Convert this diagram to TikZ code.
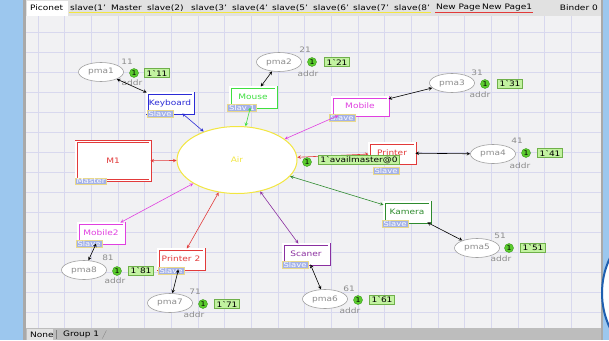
\documentclass[tikz,border=0pt]{standalone}
\usepackage{fontspec}
\setmainfont{DejaVu Sans}[FakeStretch=1.2]
\usetikzlibrary{shapes.geometric}
\definecolor{deskblue}{HTML}{9CC7EE}
\definecolor{framegray}{HTML}{A9A9A9}
\definecolor{canvasbg}{HTML}{F1F1F3}
\definecolor{gridline}{HTML}{D8D8EE}
\definecolor{tabbg}{HTML}{E1E1E1}
\definecolor{statusbg}{HTML}{BDBDBD}
\definecolor{kbblue}{HTML}{2B2BD6}
\definecolor{mousegreen}{HTML}{3FDF3F}
\definecolor{mobmagenta}{HTML}{E040E0}
\definecolor{prred}{HTML}{E23A3A}
\definecolor{camgreen}{HTML}{2E8B2E}
\definecolor{scanpurple}{HTML}{8A2FA0}
\definecolor{airyellow}{HTML}{F2E640}
\definecolor{placegray}{HTML}{A0A0A0}
\definecolor{txtgray}{HTML}{8C8C8C}
\definecolor{tagblue}{HTML}{A3B1E8}
\definecolor{tagedge}{HTML}{EAD98A}
\definecolor{tokgreen}{HTML}{5ACB2E}
\definecolor{tokedge}{HTML}{3C9A1E}
\definecolor{markgreen}{HTML}{C2F2A0}
\definecolor{markedge}{HTML}{6FB04A}
\definecolor{ringblue}{HTML}{1F5FB0}

\begin{document}
\begin{tikzpicture}[x=1pt, y=-1pt, >=stealth, every node/.style={font=\fontsize{7.5}{8}\selectfont}]
\tikzstyle{trans}=[rectangle, draw, line width=0.9pt, double=white, double distance=1.2pt, fill=white, minimum width=46pt, minimum height=20pt, inner sep=1pt]
\tikzstyle{place}=[ellipse, draw=placegray, line width=0.6pt, fill=white, minimum width=45pt, minimum height=19pt, inner sep=0pt, text=txtgray]
\tikzstyle{tag}=[rectangle, draw=tagedge, line width=0.8pt, fill=tagblue, text=white, inner xsep=1.5pt, inner ysep=0.5pt, font=\fontsize{7}{7}\selectfont]
\tikzstyle{tok}=[circle, draw=tokedge, fill=tokgreen, inner sep=0pt, minimum size=9pt, font=\fontsize{6.5}{6.5}\selectfont]
\tikzstyle{markbox}=[rectangle, draw=markedge, fill=markgreen, inner xsep=2pt, inner ysep=1pt, minimum height=9pt]
\tikzstyle{info}=[text=txtgray, inner sep=0pt]
\tikzstyle{tabtxt}=[anchor=west, inner sep=1pt, font=\fontsize{7.5}{8}\selectfont]
\tikzstyle{link}=[<->, line width=0.6pt]
\useasboundingbox (0,0) rectangle (609,340);

% desktop and window
\fill[deskblue] (0,0) rectangle (609,340);
\fill[framegray] (23,0) rectangle (603,340);
\fill[tabbg] (26,0) rectangle (601,16);
\fill[canvasbg] (26,16) rectangle (601,328);
\fill[statusbg] (26,328) rectangle (601,340);
\foreach \gx in {0,...,20}
  \draw[gridline, line width=0.4pt] ({38+26.65*\gx},16) -- ({38+26.65*\gx},328);
\foreach \gy in {0,...,14}
  \draw[gridline, line width=0.4pt] (26,{32+20*\gy}) -- (601,{32+20*\gy});
\draw[ringblue, line width=2pt, fill=white] (683,293) circle[radius=81];

% tab bar
\fill[white] (27,1) rectangle (68,16);
\node[tabtxt] (tpiconet) at (29,8) {Piconet};
\node[tabtxt] (tslaveone) at (69,8) {slave(1'};
\node[tabtxt] (tmaster) at (110,8) {Master};
\node[tabtxt] (tslavetwo) at (146,8) {slave(2)};
\node[tabtxt] (tslavethree) at (190,8) {slave(3'};
\node[tabtxt] (tslavefour) at (231,8) {slave(4'};
\node[tabtxt] (tslavefive) at (271,8) {slave(5'};
\node[tabtxt] (tslavesix) at (312,8) {slave(6'};
\node[tabtxt] (tslaveseven) at (352,8) {slave(7'};
\node[tabtxt] (tslaveeight) at (393,8) {slave(8'};
\node[tabtxt] (tnewpage) at (435,8) {New Page};
\node[tabtxt] (tnewpageone) at (481,8) {New Page1};
\node[tabtxt, anchor=east] (tbinder) at (599,8) {Binder 0};
\draw[airyellow, line width=1pt] (tslaveone.south west) -- (tslaveeight.south east);
\draw[prred, line width=1pt] (tnewpage.south west) -- (tnewpage.south east);
\draw[prred, line width=1pt] (tnewpageone.south west) -- (tnewpageone.south east);

% status bar
\fill[tabbg] (27,329) rectangle (53,340);
\node[tabtxt] (snone) at (29,334.5) {None};
\node[tabtxt] (sgroup) at (62,334.5) {Group 1};
\draw[gray] (56,330) -- (56,339);
\draw[gray] (sgroup.east) ++(2,4) -- ++(4,-8);

% substitution transitions
\node[trans, draw=kbblue, text=kbblue] (kbd) at (170,103) {Keyboard};
\node[trans, draw=mousegreen, text=mousegreen] (mouse) at (253,97) {Mouse};
\node[trans, draw=mobmagenta, text=mobmagenta, minimum width=56pt, minimum height=18pt] (mobile) at (360,106) {Mobile};
\node[trans, draw=prred, text=prred, minimum width=74pt, minimum height=39pt] (mone) at (113,161) {M1};
\node[trans, draw=prred, text=prred] (printer) at (392,153) {Printer};
\node[trans, draw=camgreen, text=camgreen] (kamera) at (407,212) {Kamera};
\node[trans, draw=scanpurple, text=scanpurple] (scaner) at (306,254) {Scaner};
\node[trans, draw=prred, text=prred] (printerb) at (181,259) {Printer 2};
\node[trans, draw=mobmagenta, text=mobmagenta] (mobileb) at (101,233) {Mobile2};

% tags
\node[tag] (kbdtag) at (160,114) {Slave};
\node[tag] (mousetag) at (242,108) {Slav 1};
\node[tag] (mobiletag) at (342,118) {Slave};
\node[tag] (monetag) at (91,181) {Master};
\node[tag] (printertag) at (386,171) {Slave};
\node[tag] (kameratag) at (395,224) {Slave};
\node[tag] (scanertag) at (295,265) {Slave};
\node[tag] (printerbtag) at (171,271) {Slave};
\node[tag] (mobilebtag) at (89,244) {Slave};

% places
\node[ellipse, draw=airyellow, line width=1pt, fill=white, minimum width=120pt, minimum height=67pt, text=airyellow] (air) at (237,160) {Air};
\node[place] (pma1) at (101,72) {pma1};
\node[place] (pma2) at (279,62) {pma2};
\node[place] (pma3) at (452,83) {pma3};
\node[place] (pma4) at (493,154) {pma4};
\node[place] (pma5) at (477,248) {pma5};
\node[place] (pma6) at (325,299) {pma6};
\node[place] (pma7) at (170,303) {pma7};
\node[place] (pma8) at (84,270) {pma8};

% initial markings and colour sets
\node[info] (init1) at (127,62) {11};
\node[info] (init2) at (305,50) {21};
\node[info] (init3) at (477,73) {31};
\node[info] (init4) at (517,141) {41};
\node[info] (init5) at (500,236) {51};
\node[info] (init6) at (349,289) {61};
\node[info] (init7) at (195,292) {71};
\node[info] (init8) at (108,258) {81};
\node[info] (addr1) at (132,83) {addr};
\node[info] (addr2) at (308,74) {addr};
\node[info] (addr3) at (480,95) {addr};
\node[info] (addr4) at (520,166) {addr};
\node[info] (addr5) at (501,259) {addr};
\node[info] (addr6) at (350,311) {addr};
\node[info] (addr7) at (194,315) {addr};
\node[info] (addr8) at (115,281) {addr};

% arcs
\draw[link] (pma1) -- (kbd);
\draw[link] (pma2) -- (mouse);
\draw[link] (mobile) -- (pma3);
\draw[link] (printer) -- (pma4);
\draw[link] (kamera) -- (pma5);
\draw[link] (scaner) -- (pma6);
\draw[link] (printerb) -- (pma7);
\draw[link] (mobileb) -- (pma8);
\draw[link, kbblue] (kbd) -- (air);
\draw[link, mousegreen] (mouse) -- (air);
\draw[link, mobmagenta] (mobile) -- (air);
\draw[link, prred] (mone) -- (air);
\draw[link, prred] (air) -- (printer);
\draw[link, camgreen] (air) -- (kamera);
\draw[link, scanpurple] (air) -- (scaner);
\draw[link, prred] (air) -- (printerb);
\draw[link, mobmagenta] (air) -- (mobileb);

% current markings
\node[tok] (tok1) at (134,73) {1};
\node[tok] (tok2) at (312,62) {1};
\node[tok] (tok3) at (485,84) {1};
\node[tok] (tok4) at (526,153) {1};
\node[tok] (tok5) at (509,248) {1};
\node[tok] (tok6) at (358,300) {1};
\node[tok] (tok7) at (203,304) {1};
\node[tok] (tok8) at (117,271) {1};
\node[tok] (airtok) at (307,162) {1};
\node[markbox] (mark1) at (157,73) {1\textasciigrave 11};
\node[markbox] (mark2) at (337,62) {1\textasciigrave 21};
\node[markbox] (mark3) at (510,84) {1\textasciigrave 31};
\node[markbox] (mark4) at (550,153) {1\textasciigrave 41};
\node[markbox] (mark5) at (533,248) {1\textasciigrave 51};
\node[markbox] (mark6) at (382,300) {1\textasciigrave 61};
\node[markbox] (mark7) at (227,304) {1\textasciigrave 71};
\node[markbox] (mark8) at (141,271) {1\textasciigrave 81};
\node[markbox] (airmark) at (359,160) {1\textasciigrave availmaster@0};
\end{tikzpicture}
\end{document}
